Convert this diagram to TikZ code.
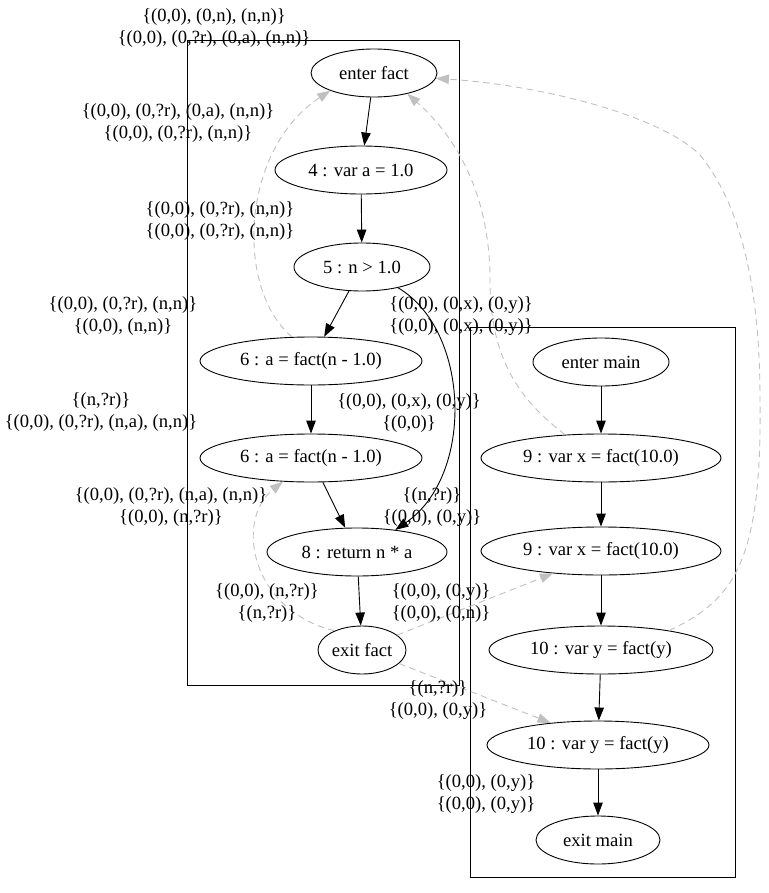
\documentclass[tikz,border=0pt]{standalone}
\usepackage{fontspec}
\setmainfont{Liberation Serif}
\usetikzlibrary{arrows.meta,shapes.geometric}
\definecolor{callgray}{HTML}{C0C0C0}
\begin{document}
\begin{tikzpicture}[x=1pt,y=-1pt,
  every node/.style={font=\fontsize{18.6}{22.2}\selectfont},
  stmt/.style={ellipse, draw, line width=0.9pt, minimum height=48pt, inner sep=0pt},
  flow/.style={draw, line width=0.9pt, -{Triangle[length=13pt,width=9.5pt]}},
  call/.style={draw=callgray, line width=0.9pt, dash pattern=on 6.5pt off 4.5pt, -{Triangle[length=13pt,width=9.5pt,color=callgray]}},
  info/.style={align=center, inner sep=0pt},
  cluster/.style={draw, line width=0.9pt}]
\useasboundingbox (0,0) rectangle (768,893);

% clusters
\draw[cluster] (187,40) rectangle (459,685);
\draw[cluster] (470,327) rectangle (735,877);

% fact nodes
\node[stmt, minimum width=126pt] (enterfact) at (374,73) {enter fact};
\node[stmt, minimum width=172pt] (n4) at (361,170) {4 : var a = 1.0};
\node[stmt, minimum width=136pt] (n5) at (362,267) {5 : n > 1.0};
\node[stmt, minimum width=222pt] (n6a) at (311,361) {6 : a = fact(n - 1.0)};
\node[stmt, minimum width=222pt] (n6b) at (311,458) {6 : a = fact(n - 1.0)};
\node[stmt, minimum width=180pt] (n8) at (357,552) {8 : return n * a};
\node[stmt, minimum width=88pt] (exitfact) at (362,650) {exit fact};

% main nodes
\node[stmt, minimum width=136pt] (entermain) at (601,362) {enter main};
\node[stmt, minimum width=240pt] (n9a) at (601,458) {9 : var x = fact(10.0)};
\node[stmt, minimum width=240pt] (n9b) at (601,551) {9 : var x = fact(10.0)};
\node[stmt, minimum width=224pt] (n10a) at (601,650) {10 : var y = fact(y)};
\node[stmt, minimum width=222pt] (n10b) at (598,745) {10 : var y = fact(y)};
\node[stmt, minimum width=124pt] (exitmain) at (598,840) {exit main};

% flow edges
\draw[flow] (enterfact) -- (n4);
\draw[flow] (n4) -- (n5);
\draw[flow] (n5) -- (n6a);
\draw[flow] (n5.-30) .. controls (470,330) and (475,475) .. (n8.30);
\draw[flow] (n6a) -- (n6b);
\draw[flow] (n6b) -- (n8);
\draw[flow] (n8) -- (exitfact);
\draw[flow] (entermain) -- (n9a);
\draw[flow] (n9a) -- (n9b);
\draw[flow] (n9b) -- (n10a);
\draw[flow] (n10a) -- (n10b);
\draw[flow] (n10b) -- (exitmain);

% call / return edges
\draw[call] (n6a.128) .. controls (235,290) and (240,150) .. (enterfact.202);
\draw[call] (n9a.147) .. controls (520,400) and (490,360) .. (490,280)
  .. controls (490,200) and (460,140) .. (enterfact.-32);
\draw[call] (n10a.16) .. controls (735,600) and (762,560) .. (760,400)
  .. controls (760,300) and (745,210) .. (700,155)
  .. controls (660,115) and (540,85) .. (enterfact.-5);
\draw[call] (exitfact.145) .. controls (250,610) and (235,520) .. (n6b.-140);
\draw[call] (exitfact.23) -- (n9b.-155);
\draw[call] (exitfact.-20) -- (n10b.155);

% labels
\node[info] (l1) at (214,28) {\{(0,0), (0,n), (n,n)\}\\\{(0,0), (0,?r), (0,a), (n,n)\}};
\node[info] (l2) at (178,123) {\{(0,0), (0,?r), (0,a), (n,n)\}\\\{(0,0), (0,?r), (n,n)\}};
\node[info] (l3) at (220,221) {\{(0,0), (0,?r), (n,n)\}\\\{(0,0), (0,?r), (n,n)\}};
\node[info] (l4) at (123,316) {\{(0,0), (0,?r), (n,n)\}\\\{(0,0), (n,n)\}};
\node[info] (l5) at (101,412) {\{(n,?r)\}\\\{(0,0), (0,?r), (n,a), (n,n)\}};
\node[info] (l6) at (461,316) {\{(0,0), (0,x), (0,y)\}\\\{(0,0), (0,x), (0,y)\}};
\node[info] (l7) at (409,413) {\{(0,0), (0,x), (0,y)\}\\\{(0,0)\}};
\node[info] (l8) at (171,507) {\{(0,0), (0,?r), (n,a), (n,n)\}\\\{(0,0), (n,?r)\}};
\node[info] (l9) at (432,507) {\{(n,?r)\}\\\{(0,0), (0,y)\}};
\node[info] (l10) at (267,603) {\{(0,0), (n,?r)\}\\\{(n,?r)\}};
\node[info] (l11) at (441,603) {\{(0,0), (0,y)\}\\\{(0,0), (0,n)\}};
\node[info] (l12) at (438,700) {\{(n,?r)\}\\\{(0,0), (0,y)\}};
\node[info] (l13) at (486,794) {\{(0,0), (0,y)\}\\\{(0,0), (0,y)\}};
\end{tikzpicture}
\end{document}
